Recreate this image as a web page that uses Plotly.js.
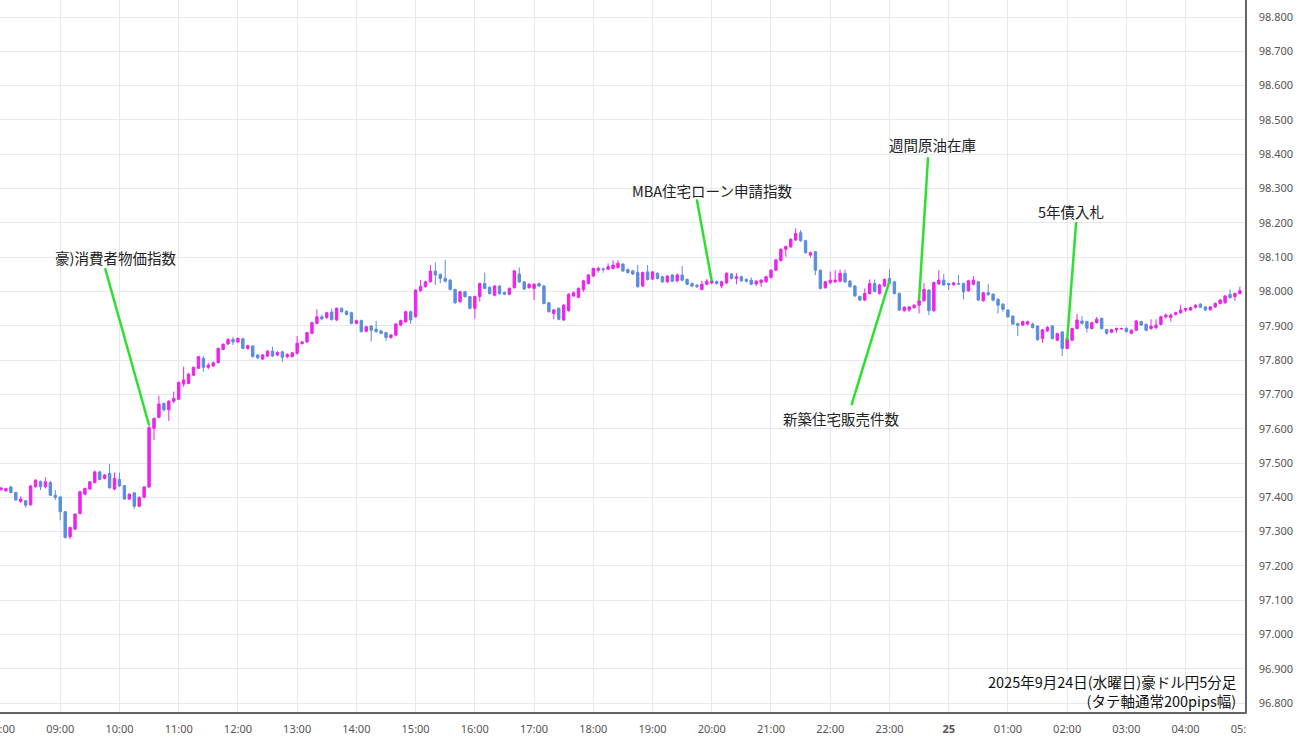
<!DOCTYPE html>
<html><head><meta charset="utf-8">
<script src="https://cdn.plot.ly/plotly-3.0.1.min.js"></script>
<style>html,body{margin:0;padding:0;background:#fff}#chart{width:1300px;height:743px}</style>
</head><body><div id="chart"></div>
<script>
// AUD/JPY 5-minute candles, 2025-09-24 08:00 onward
const openP = [
97.422,97.419,97.430,97.414,97.388,97.390,97.378,97.431,97.446,97.431,
97.443,97.406,97.401,97.358,97.285,97.307,97.353,97.409,97.424,97.443,
97.474,97.455,97.470,97.424,97.452,97.434,97.395,97.413,97.374,97.400,
97.430,97.601,97.633,97.674,97.655,97.680,97.686,97.730,97.732,97.756,
97.776,97.805,97.779,97.783,97.793,97.831,97.847,97.860,97.853,97.862,
97.834,97.841,97.815,97.803,97.812,97.826,97.815,97.824,97.810,97.810,
97.820,97.848,97.853,97.878,97.907,97.926,97.924,97.940,97.917,97.951,
97.942,97.938,97.907,97.915,97.884,97.899,97.890,97.885,97.880,97.866,
97.873,97.902,97.912,97.941,97.926,98.002,98.014,98.028,98.059,98.050,
98.038,98.033,98.006,97.970,97.999,97.985,97.951,97.985,98.023,98.012,
97.989,98.016,97.997,97.992,98.011,98.051,98.028,98.011,98.009,98.023,
98.016,97.967,97.936,97.951,97.917,97.944,97.987,97.983,98.006,98.023,
98.045,98.062,98.066,98.065,98.067,98.070,98.080,98.064,98.060,98.055,
98.016,98.057,98.036,98.053,98.043,98.028,98.048,98.031,98.048,98.035,
98.023,98.018,98.006,98.021,98.025,98.029,98.016,98.025,98.051,98.038,
98.043,98.035,98.033,98.022,98.026,98.028,98.041,98.062,98.090,98.123,
98.130,98.150,98.171,98.148,98.106,98.116,98.062,98.011,98.026,98.028,
98.030,98.053,98.030,98.016,97.985,97.975,97.994,98.023,97.994,98.016,
98.038,98.028,97.994,97.944,97.946,97.953,97.960,97.973,98.004,97.944,
98.022,98.033,98.023,98.020,98.023,98.023,98.002,98.021,98.028,97.973,
97.996,97.992,97.977,97.963,97.946,97.928,97.906,97.902,97.905,97.905,
97.899,97.863,97.885,97.899,97.858,97.882,97.834,97.858,97.892,97.914,
97.912,97.892,97.909,97.921,97.889,97.881,97.888,97.891,97.892,97.878,
97.887,97.912,97.904,97.892,97.895,97.904,97.926,97.924,97.933,97.938,
97.946,97.946,97.954,97.963,97.955,97.947,97.955,97.965,97.967,97.991,
97.985,97.994];
const highP = [
97.430,97.428,97.434,97.416,97.403,97.392,97.436,97.453,97.449,97.458,
97.447,97.421,97.403,97.360,97.315,97.353,97.419,97.428,97.447,97.478,
97.478,97.468,97.497,97.472,97.472,97.436,97.412,97.415,97.402,97.433,
97.610,97.633,97.696,97.676,97.683,97.708,97.737,97.781,97.762,97.781,
97.812,97.812,97.792,97.796,97.836,97.849,97.864,97.868,97.866,97.865,
97.845,97.843,97.817,97.818,97.829,97.839,97.826,97.827,97.820,97.824,
97.870,97.856,97.882,97.912,97.948,97.933,97.941,97.950,97.953,97.953,
97.945,97.941,97.918,97.918,97.900,97.902,97.914,97.888,97.882,97.876,
97.908,97.918,97.944,97.944,98.006,98.033,98.031,98.077,98.084,98.052,
98.092,98.036,98.008,98.002,98.002,97.987,97.988,98.026,98.055,98.015,
98.019,98.018,98.000,98.012,98.063,98.070,98.030,98.024,98.024,98.026,
98.018,97.969,97.949,97.953,97.963,97.995,98.000,98.012,98.034,98.051,
98.070,98.072,98.070,98.082,98.091,98.091,98.082,98.067,98.063,98.077,
98.058,98.077,98.060,98.056,98.046,98.048,98.051,98.053,98.074,98.038,
98.026,98.022,98.031,98.036,98.035,98.032,98.031,98.056,98.054,98.053,
98.046,98.038,98.041,98.033,98.036,98.046,98.065,98.095,98.126,98.134,
98.155,98.184,98.179,98.151,98.116,98.118,98.064,98.031,98.058,98.062,
98.064,98.064,98.033,98.019,97.988,98.009,98.035,98.035,98.022,98.038,
98.064,98.031,97.997,97.957,97.958,97.963,97.976,98.024,98.007,98.029,
98.062,98.051,98.026,98.028,98.048,98.026,98.034,98.045,98.031,97.999,
98.022,97.995,97.980,97.966,97.948,97.931,97.909,97.915,97.915,97.909,
97.902,97.891,97.899,97.902,97.880,97.885,97.866,97.895,97.934,97.928,
97.915,97.912,97.926,97.924,97.891,97.891,97.895,97.894,97.897,97.890,
97.917,97.915,97.907,97.919,97.919,97.929,97.936,97.936,97.941,97.960,
97.953,97.956,97.963,97.966,97.958,97.958,97.968,97.978,97.990,98.006,
97.997,98.014];
const lowP = [
97.420,97.416,97.412,97.390,97.384,97.370,97.376,97.428,97.421,97.426,
97.404,97.392,97.333,97.280,97.278,97.305,97.350,97.406,97.421,97.440,
97.450,97.452,97.425,97.420,97.430,97.392,97.392,97.366,97.371,97.397,
97.428,97.567,97.630,97.650,97.622,97.674,97.684,97.722,97.730,97.754,
97.774,97.766,97.773,97.780,97.790,97.829,97.844,97.844,97.850,97.832,
97.830,97.808,97.803,97.800,97.809,97.809,97.812,97.795,97.805,97.808,
97.816,97.845,97.850,97.876,97.904,97.916,97.920,97.915,97.914,97.938,
97.930,97.904,97.904,97.880,97.881,97.854,97.880,97.875,97.856,97.862,
97.870,97.899,97.909,97.905,97.924,97.999,98.011,98.026,98.019,98.024,
98.026,98.003,97.964,97.967,97.982,97.948,97.921,97.970,98.006,97.991,
97.986,97.991,97.989,97.989,98.008,98.025,98.004,98.008,97.975,98.013,
97.962,97.938,97.919,97.916,97.914,97.941,97.984,97.980,97.999,98.020,
98.042,98.055,98.055,98.062,98.064,98.067,98.057,98.052,98.048,98.011,
98.013,98.032,98.033,98.035,98.025,98.025,98.027,98.027,98.030,98.018,
98.012,98.010,98.003,98.018,98.021,98.020,98.009,98.022,98.035,98.021,
98.028,98.026,98.018,98.016,98.014,98.025,98.038,98.059,98.087,98.101,
98.127,98.147,98.145,98.110,98.099,98.048,98.006,98.008,98.021,98.025,
98.027,98.025,98.011,97.984,97.972,97.972,97.991,97.997,97.991,98.013,
98.021,97.991,97.943,97.941,97.941,97.950,97.936,97.970,97.931,97.941,
98.019,98.016,98.004,98.016,98.019,97.977,97.999,98.018,97.972,97.970,
97.987,97.971,97.936,97.941,97.923,97.902,97.870,97.899,97.901,97.892,
97.856,97.850,97.882,97.860,97.855,97.812,97.831,97.855,97.889,97.904,
97.880,97.889,97.906,97.889,97.874,97.878,97.880,97.888,97.880,97.875,
97.884,97.900,97.884,97.888,97.889,97.901,97.921,97.912,97.930,97.935,
97.940,97.943,97.950,97.951,97.943,97.944,97.952,97.962,97.964,97.979,
97.973,97.991];
const closeP = [
97.427,97.425,97.414,97.392,97.395,97.377,97.433,97.450,97.431,97.445,
97.406,97.400,97.358,97.283,97.312,97.351,97.416,97.426,97.445,97.474,
97.452,97.465,97.428,97.455,97.433,97.395,97.409,97.374,97.400,97.430,
97.603,97.630,97.672,97.655,97.680,97.688,97.735,97.742,97.759,97.779,
97.810,97.779,97.785,97.792,97.834,97.846,97.860,97.853,97.863,97.834,
97.842,97.810,97.807,97.815,97.826,97.812,97.822,97.808,97.816,97.821,
97.849,97.853,97.880,97.909,97.926,97.920,97.938,97.918,97.951,97.941,
97.933,97.907,97.915,97.883,97.897,97.887,97.883,97.878,97.866,97.873,
97.905,97.915,97.941,97.917,98.004,98.014,98.028,98.059,98.048,98.038,
98.030,98.006,97.967,97.999,97.985,97.951,97.985,98.023,98.009,97.994,
98.016,97.994,97.992,98.009,98.060,98.028,98.007,98.021,98.021,98.016,
97.965,97.941,97.946,97.919,97.960,97.992,97.996,98.009,98.031,98.048,
98.067,98.067,98.064,98.072,98.077,98.082,98.060,98.055,98.051,98.014,
98.055,98.035,98.057,98.038,98.028,98.045,98.030,98.048,98.033,98.021,
98.016,98.014,98.021,98.030,98.031,98.023,98.028,98.053,98.038,98.043,
98.031,98.030,98.021,98.030,98.033,98.043,98.062,98.092,98.123,98.131,
98.152,98.169,98.148,98.113,98.113,98.062,98.009,98.028,98.033,98.033,
98.053,98.028,98.014,97.987,97.975,97.994,98.023,98.000,98.019,98.035,
98.024,97.994,97.946,97.954,97.955,97.960,97.973,98.006,97.944,98.026,
98.033,98.019,98.019,98.025,98.022,97.999,98.031,98.033,97.975,97.996,
97.991,97.975,97.960,97.948,97.926,97.905,97.901,97.912,97.912,97.895,
97.860,97.888,97.895,97.863,97.877,97.834,97.863,97.892,97.917,97.907,
97.893,97.909,97.919,97.892,97.878,97.889,97.892,97.892,97.883,97.887,
97.914,97.902,97.887,97.899,97.902,97.926,97.931,97.931,97.938,97.946,
97.950,97.953,97.960,97.954,97.946,97.955,97.965,97.975,97.987,97.982,
97.994,98.002];

const hourLabels = ['08:00','09:00','10:00','11:00','12:00','13:00','14:00','15:00','16:00','17:00',
  '18:00','19:00','20:00','21:00','22:00','23:00','<b>25</b>','01:00','02:00','03:00','04:00','05:00'];

const eventLabels = ['豪)消費者物価指数','MBA住宅ローン申請指数','新築住宅販売件数','週間原油在庫','5年債入札'];
const eventTimes = ['2025-09-24 10:30','2025-09-24 20:00','2025-09-24 23:00','2025-09-24 23:30','2025-09-25 02:00'];
const eventPrices = [97.61, 98.030, 98.030, 97.975, 97.858];

const titleLines = ['2025年9月24日(水曜日)豪ドル円5分足','(タテ軸通常200pips幅)'];

// ---- helpers ----
function pad(n){return (n<10?'0':'')+n;}
function stamp(totalMin){
  const day = 24 + Math.floor(totalMin/1440);
  const m = totalMin % 1440;
  return '2025-09-' + day + ' ' + pad(Math.floor(m/60)) + ':' + pad(m%60);
}
const times = openP.map((_, i) => stamp(8*60 + 5*i));
const tickVals = hourLabels.map((_, h) => stamp((8+h)*60));

// label layout (pixel offsets from event point): [lineDx, lineDy, textDx, textDy]
const eventOffsets = [[-44,157,-34,168],[-15,82,0,91],[-38,-124,-48,-137],[9,143,13,156],[9,118,4,129]];

const shapes = eventLabels.map((_, k) => ({
  type:'line', xref:'x', yref:'y', xsizemode:'pixel', ysizemode:'pixel',
  xanchor: eventTimes[k], yanchor: eventPrices[k],
  x0:0, y0:0, x1:eventOffsets[k][0], y1:eventOffsets[k][1],
  line:{color:'#2ee02e', width:2.5}, layer:'above'
}));

const annotations = eventLabels.map((t, k) => ({
  x: eventTimes[k], y: eventPrices[k], xref:'x', yref:'y',
  xshift: eventOffsets[k][2], yshift: eventOffsets[k][3],
  text: t, showarrow:false, xanchor:'center', yanchor:'middle',
  font:{family:'Noto Sans CJK JP', size:14.5, color:'#222'}
}));
annotations.push({xref:'paper', yref:'paper', x:1, y:0, xshift:-7, yshift:-1, xanchor:'right', yanchor:'bottom',
  align:'right', text:titleLines.join('<br>'), showarrow:false,
  font:{family:'Noto Sans CJK JP', size:14.5, color:'#111'}});
// cover to clip the last time label at the axis edge
annotations.push({xref:'paper', yref:'paper', x:1, y:0, xshift:1, yshift:-1, xanchor:'left', yanchor:'top',
  text:' ', showarrow:false, width:54, height:30, bgcolor:'#ffffff'});

const trace = {
  type:'candlestick', x:times, open:openP, high:highP, low:lowP, close:closeP,
  increasing:{line:{color:'#ee22ee', width:1}, fillcolor:'#ee22ee'},
  decreasing:{line:{color:'#5b8ddf', width:1}, fillcolor:'#5b8ddf'},
  whiskerwidth:0, hoverinfo:'skip'
};

const gridC = '#e6eaf0';
const layout = {
  width:1300, height:743,
  margin:{l:0, r:55, t:0, b:31},
  paper_bgcolor:'#ffffff', plot_bgcolor:'#ffffff',
  showlegend:false,
  xaxis:{type:'date', range:['2025-09-24 07:58:59','2025-09-25 05:00:10'],
    tickmode:'array', tickvals:tickVals, ticktext:hourLabels, tickangle:0,
    showgrid:true, gridcolor:gridC, gridwidth:1, zeroline:false,
    showline:true, linecolor:'#666', linewidth:1.5, ticks:'',
    ticklabelstandoff:6, ticklabeloverflow:'allow',
    tickfont:{family:'Noto Sans', size:11, color:'#555'},
    rangeslider:{visible:false}},
  yaxis:{side:'right', range:[96.7742, 98.8496], tick0:96.8, dtick:0.1, tickformat:'.3f',
    showgrid:true, gridcolor:gridC, gridwidth:1, zeroline:false,
    showline:true, linecolor:'#666', linewidth:1.5, ticks:'',
    ticklabelstandoff:10,
    tickfont:{family:'Noto Sans', size:11, color:'#555'}},
  shapes: shapes,
  annotations: annotations
};

Plotly.newPlot('chart', [trace], layout, {staticPlot:true, displayModeBar:false});
</script>
</body></html>
